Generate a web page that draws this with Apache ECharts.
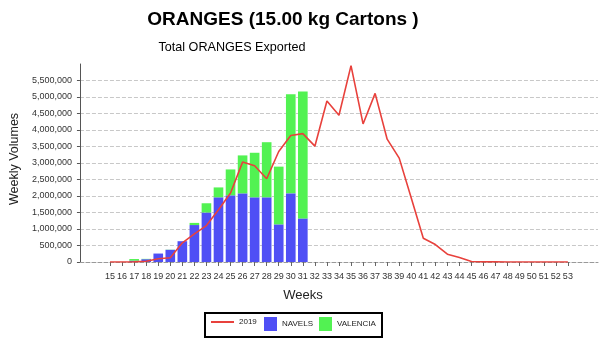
<!DOCTYPE html>
<html>
<head>
<meta charset="utf-8">
<script src="https://cdn.jsdelivr.net/npm/echarts@6/dist/echarts.min.js"></script>
<style>
html,body{margin:0;padding:0;background:#fff;}
#chart{width:600px;height:345px;}
</style>
</head>
<body>
<div id="chart"></div>
<script>
// Category axis (weeks). 13,14 and 54,55 are padding slots without labels.
const weeks = [13,14,15,16,17,18,19,20,21,22,23,24,25,26,27,28,29,30,31,32,33,34,35,36,37,38,39,40,41,42,43,44,45,46,47,48,49,50,51,52,53,54,55];
const firstLabelWeek = 15;
const lastLabelWeek = 53;

// NAVELS volumes (weeks 13..55)
const navels = [null,null,0,0,40000,85000,256000,370000,630000,1120000,1500000,1960000,2020000,2080000,1960000,1960000,1140000,2080000,1320000,0,0,0,0,0,0,0,0,0,0,0,0,0,0,0,0,0,0,0,0,0,0,null,null];
// VALENCIA volumes (weeks 13..55)
const valencia = [null,null,0,0,50000,10000,0,5000,0,65000,280000,300000,785000,1150000,1350000,1670000,1750000,3000000,3850000,0,0,0,0,0,0,0,0,0,0,0,0,0,0,0,0,0,0,0,0,0,0,null,null];
// 2019 total (weeks 13..55)
const y2019 = [null,null,0,0,5000,25000,97000,127000,580000,852000,1103000,1586000,2090000,3027000,2915000,2522000,3348000,3831000,3891000,3510000,4879000,4447000,5950000,4184000,5111000,3722000,3148000,1939000,719000,529000,236000,136000,15000,5000,3000,0,0,0,0,0,0,null,null];

// Value axis ticks
const yTickMax = 6000000;
const yTickStep = 500000;

const FONT = '"Liberation Sans", Arial, sans-serif';
const chart = echarts.init(document.getElementById('chart'), null, {renderer:'canvas'});

const gridColors = [];
for (let v = 0; v <= yTickMax; v += yTickStep) gridColors.push(v === yTickMax ? 'rgba(0,0,0,0)' : '#c8c8c8');

chart.setOption({
  animation: false,
  backgroundColor: '#ffffff',
  title: [
    {text: 'ORANGES (15.00 kg Cartons )', left: 283, top: 10, textAlign: 'center', padding: 0,
     textStyle: {fontFamily: FONT, fontSize: 19, fontWeight: 'bold', color: '#000'}},
    {text: 'Total ORANGES Exported', left: 232, top: 41, textAlign: 'center', padding: 0,
     textStyle: {fontFamily: FONT, fontSize: 12.6, fontWeight: 'normal', color: '#000'}},
    {text: 'Weeks', left: 303, top: 289, textAlign: 'center', padding: 0,
     textStyle: {fontFamily: FONT, fontSize: 13, fontWeight: 'normal', color: '#222'}}
  ],
  graphic: [
    {type: 'rect', shape: {x: 205, y: 313, width: 177, height: 24}, style: {fill: '#fff', stroke: '#000', lineWidth: 2}, z: -1}
  ],
  legend: [
    {data: ['2019'], left: 211, top: 318, padding: 0, itemWidth: 23, itemHeight: 2, icon: 'rect',
     textStyle: {fontFamily: FONT, fontSize: 8, color: '#222'}},
    {data: ['NAVELS', 'VALENCIA'], left: 264, top: 317, padding: 0, itemWidth: 13, itemHeight: 14, icon: 'rect', itemGap: 6,
     textStyle: {fontFamily: FONT, fontSize: 8, color: '#222'}}
  ],
  grid: {left: 73, right: 2, top: 64, bottom: 83, containLabel: false},
  xAxis: {
    type: 'category',
    data: weeks,
    boundaryGap: true,
    axisLine: {show: true, lineStyle: {color: '#999', type: 'dashed', width: 1}},
    axisTick: {show: true, alignWithLabel: true, length: 4, lineStyle: {color: '#666'},
      interval: function (idx, val) { return +val >= firstLabelWeek && +val <= lastLabelWeek; }},
    axisLabel: {interval: 0, margin: 10, fontFamily: FONT, fontSize: 9, color: '#333',
      formatter: function (v) { return (+v >= firstLabelWeek && +v <= lastLabelWeek) ? String(v) : ''; }},
    splitLine: {show: false}
  },
  yAxis: {
    type: 'value',
    min: 0, max: yTickMax, interval: yTickStep,
    name: 'Weekly Volumes', nameLocation: 'middle', nameRotate: 90, nameGap: 55,
    nameTextStyle: {fontFamily: FONT, fontSize: 12.5, color: '#222', padding: [0, 0, 0, 8]},
    axisLine: {show: true, lineStyle: {color: '#555', width: 1}},
    axisTick: {show: true, length: 3, lineStyle: {color: '#555'}},
    axisLabel: {margin: 8, fontFamily: FONT, fontSize: 9, color: '#333', showMaxLabel: false,
      formatter: function (v) { return v.toLocaleString('en-US'); }},
    splitLine: {show: true, lineStyle: {color: gridColors, type: 'dashed', width: 1}}
  },
  series: [
    {name: '2019', type: 'line', data: y2019, symbol: 'none', z: 5,
     lineStyle: {color: '#e8413c', width: 1.6}, itemStyle: {color: '#e8413c'}},
    {name: 'NAVELS', type: 'bar', stack: 'v', data: navels, barWidth: '80%',
     itemStyle: {color: '#4f4ff5'}},
    {name: 'VALENCIA', type: 'bar', stack: 'v', data: valencia, barWidth: '80%',
     itemStyle: {color: '#52f252'}}
  ]
});
</script>
</body>
</html>
